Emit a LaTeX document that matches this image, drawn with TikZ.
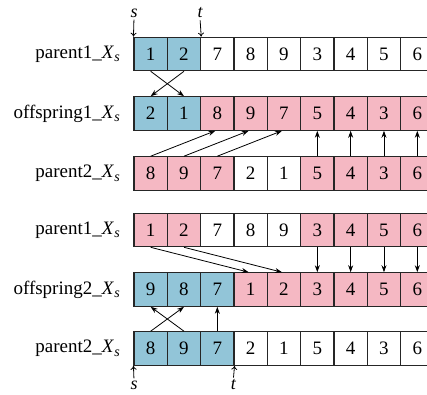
\documentclass[tikz,border=0pt]{standalone}
\usepackage{fontspec}
\setmainfont{Liberation Serif}
\usetikzlibrary{arrows.meta}

\definecolor{cellblue}{HTML}{92C5D8}
\definecolor{cellpink}{HTML}{F5B8C3}

\tikzset{
  cell/.style={draw=black!85, line width=1.1pt, minimum width=33.33pt,
    minimum height=33.5pt, inner sep=0pt, font=\fontsize{19}{19}\selectfont},
  rowlabel/.style={anchor=east, inner sep=0pt, font=\fontsize{19}{19}\selectfont},
  link/.style={-{Stealth[length=7pt,width=5pt]}, line width=0.8pt},
  cutmark/.style={-{To[length=4pt,width=6pt]}, line width=0.8pt, shorten <=2pt},
  cutlabel/.style={font=\fontsize{18}{18}\selectfont\itshape, inner sep=0pt}
}

% chromosome name with subscripted X_s
\newcommand{\Xs}{\textit{X}\kern0.3pt\raisebox{-0.4ex}{\fontsize{14}{14}\selectfont\textit{s}}}

% one chromosome: #1 name, #2 y of centre, #3 list of gene/colour
\newcommand{\generow}[3]{%
  \foreach \v/\c [count=\i from 0] in {#3} {
    \node[cell, fill=\c] (#1-\i) at ({134+33.33*(\i+0.5)}, #2) {\v};
  }%
}

\begin{document}
\begin{tikzpicture}[x=1pt, y=-1pt]
\useasboundingbox (0,0) rectangle (427,394);
\clip (0,0) rectangle (427,394);

% first crossover
\generow{ra}{54}{1/cellblue,2/cellblue,7/white,8/white,9/white,3/white,4/white,5/white,6/white}
\generow{rb}{113.5}{2/cellblue,1/cellblue,8/cellpink,9/cellpink,7/cellpink,5/cellpink,4/cellpink,3/cellpink,6/cellpink}
\generow{rc}{173.5}{8/cellpink,9/cellpink,7/cellpink,2/white,1/white,5/cellpink,4/cellpink,3/cellpink,6/cellpink}

% second crossover
\generow{rd}{230}{1/cellpink,2/cellpink,7/white,8/white,9/white,3/cellpink,4/cellpink,5/cellpink,6/cellpink}
\generow{re}{289.5}{9/cellblue,8/cellblue,7/cellblue,1/cellpink,2/cellpink,3/cellpink,4/cellpink,5/cellpink,6/cellpink}
\generow{rf}{348.5}{8/cellblue,9/cellblue,7/cellblue,2/white,1/white,5/white,4/white,3/white,6/white}

% row names
\node[rowlabel] (la) at (120,54) {parent1\_\Xs};
\node[rowlabel] (lb) at (120,113.5) {offspring1\_\Xs};
\node[rowlabel] (lc) at (120,173.5) {parent2\_\Xs};
\node[rowlabel] (ld) at (120,230) {parent1\_\Xs};
\node[rowlabel] (le) at (120,289.5) {offspring2\_\Xs};
\node[rowlabel] (lf) at (120,348.5) {parent2\_\Xs};

% cut points
\node[cutlabel] (sa) at (134,13) {s};
\node[cutlabel] (ta) at (200,13) {t};
\draw[cutmark] (sa.south) -- (ra-0.north west);
\draw[cutmark] (ta.south) -- (ra-1.north east);
\node[cutlabel] (sb) at (134,385) {s};
\node[cutlabel] (tb) at (233.3,385) {t};
\draw[cutmark] (sb.north) -- (rf-0.south west);
\draw[cutmark] (tb.north) -- (rf-2.south east);

% offspring 1
\draw[link] (ra-0.south) -- (rb-1.north);
\draw[link] (ra-1.south) -- (rb-0.north);
\draw[link] (rc-0.north) -- ([xshift=-2pt]rb-2.south);
\draw[link] (rc-1.north) -- ([xshift=-2pt]rb-3.south);
\draw[link] (rc-2.north) -- ([xshift=-2pt]rb-4.south);
\foreach \i in {5,...,8} { \draw[link] (rc-\i.north) -- (rb-\i.south); }

% offspring 2
\draw[link] (rd-0.south) -- ([xshift=-2pt]re-3.north);
\draw[link] (rd-1.south) -- ([xshift=-2pt]re-4.north);
\foreach \i in {5,...,8} { \draw[link] (rd-\i.south) -- (re-\i.north); }
\draw[link] (rf-0.north) -- (re-1.south);
\draw[link] (rf-1.north) -- (re-0.south);
\draw[link] (rf-2.north) -- (re-2.south);
\end{tikzpicture}
\end{document}
